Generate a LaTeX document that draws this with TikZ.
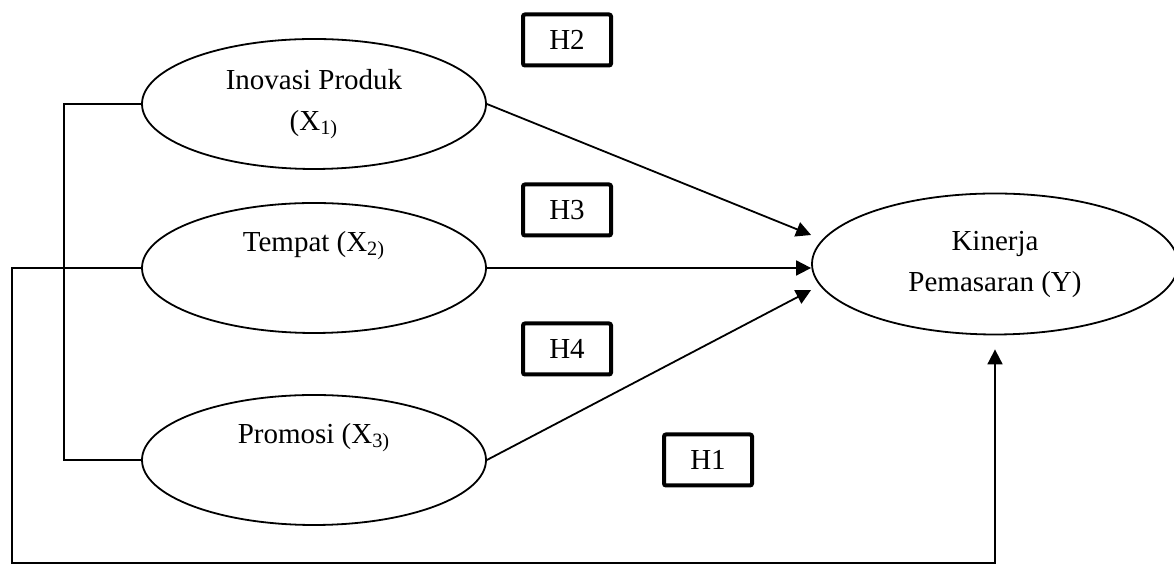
\documentclass[tikz,border=0pt]{standalone}
\usepackage{fontspec}
\setmainfont{Liberation Serif}
\usetikzlibrary{arrows.meta}
\usetikzlibrary{calc}
\usetikzlibrary{shapes.geometric}
\newcommand\xsub[1]{(X\textsubscript{#1)}}
\tikzstyle{var}=[ellipse,draw,line width=.9pt,minimum width=172pt,minimum height=65pt,inner sep=0pt,align=center,font=\fontsize{14.5}{20.5}\selectfont]
\tikzstyle{hyp}=[draw,line width=2pt,rounded corners=1pt,minimum width=44pt,minimum height=25.5pt,inner sep=0pt,font=\fontsize{14.5}{17}\selectfont]
\tikzstyle{ln}=[line width=.9pt]
\tikzstyle{arr}=[ln,-{Triangle[length=7.5pt,width=7.5pt]}]

\begin{document}
\begin{tikzpicture}[x=.5pt,y=-.5pt]
	\useasboundingbox (0,0) rectangle (1174,565);
	\node[var] (X1) at (314,104) {Inovasi Produk\\\xsub{1}};
	\node[var] (X2) at (314,268) {Tempat \xsub{2}\\\strut};
	\node[var] (X3) at (314,460) {Promosi \xsub{3}\\\strut};
	\node[var,minimum width=183pt,minimum height=70.5pt] (Y) at (995,264) {Kinerja\\Pemasaran (Y)};
	\node[hyp] (H2) at (567,40) {H2};
	\node[hyp] (H3) at (567,210) {H3};
	\node[hyp] (H4) at (567,349) {H4};
	\node[hyp] (H1) at (708,460) {H1};
	\coordinate (base) at (12,563);
	\draw[arr] (X1.east) -- ($(Y.west)+(0,-29)$);
	\draw[arr] (X2.east) -- (X2.east -| Y.west);
	\draw[arr] (X3.east) -- ($(Y.west)+(0,26)$);
	\draw[ln] (X1.west) -- ++(-77,0) |- (X3.west);
	\draw[arr,shorten >=7pt] (X2.west) -| (base) -| (Y.south);
\end{tikzpicture}
\end{document}
